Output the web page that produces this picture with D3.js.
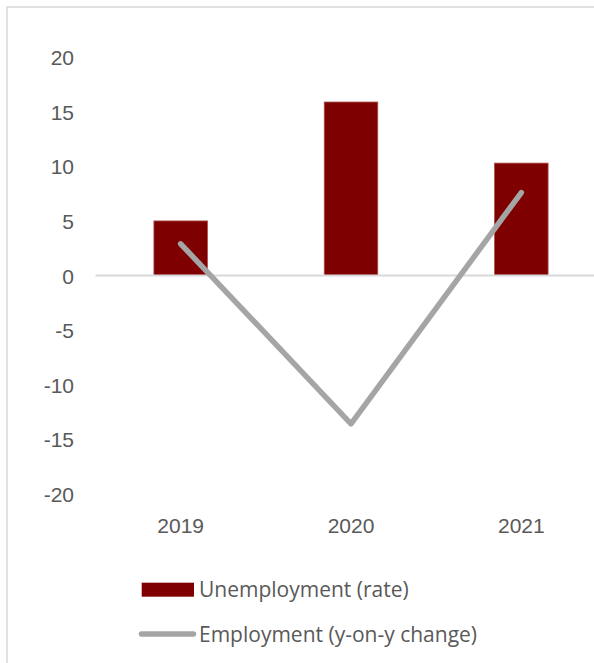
<!DOCTYPE html>
<html>
<head>
<meta charset="utf-8">
<script src="https://cdn.jsdelivr.net/npm/d3@7"></script>
<style>
  html, body { margin: 0; padding: 0; background: #fff; overflow: hidden; }
  svg { display: block; font-family: "Open Sans", "Noto Sans", sans-serif; }
</style>
</head>
<body>
<svg id="chart" width="594" height="663"></svg>
<script>
// Labour market indicators, 2019–2021
const years = ["2019", "2020", "2021"];
const unemployment = [5.0, 15.9, 10.3];      // rate, %
const employment = [2.9, -13.6, 7.6];        // y-on-y change, %
const yTicks = [-20, -15, -10, -5, 0, 5, 10, 15, 20];
const seriesNames = ["Unemployment (rate)", "Employment (y-on-y change)"];

const barColor = "#7f0000";
const lineColor = "#a5a5a5";
const textColor = "#595959";
const gridColor = "#d9d9d9";

const svg = d3.select("#chart");

// chart frame (extends past the right and bottom edges)
svg.append("rect")
  .attr("x", 7).attr("y", 7)
  .attr("width", 640).attr("height", 700)
  .attr("fill", "#fff")
  .attr("stroke", gridColor)
  .attr("stroke-width", 1.5);

const plot = { left: 95.5, right: 606.5, top: 57.3, bottom: 493.7 };

const x = d3.scaleBand()
  .domain(years)
  .range([plot.left, plot.right])
  .paddingInner(0.686)
  .paddingOuter(0.343);

const y = d3.scaleLinear()
  .domain([-20, 20])
  .range([plot.bottom, plot.top]);

// y-axis labels
const yAxis = d3.axisLeft(y).tickValues(yTicks).tickSize(0).tickPadding(0)
  .tickFormat(d3.format("d"));
const gy = svg.append("g").attr("transform", "translate(74,0)").call(yAxis);
gy.select(".domain").remove();
gy.selectAll("text")
  .attr("fill", textColor)
  .style("font-size", "21px")
  .attr("dy", "0.36em")
  .text(d => d < 0 ? "-" + Math.abs(d) : d);

// bars
svg.append("g").selectAll("rect")
  .data(years)
  .join("rect")
  .attr("x", d => x(d))
  .attr("width", x.bandwidth())
  .attr("y", (d, i) => y(Math.max(0, unemployment[i])))
  .attr("height", (d, i) => Math.abs(y(unemployment[i]) - y(0)))
  .attr("fill", barColor)
  .attr("stroke", "#a84a4a")
  .attr("stroke-width", 0.8);

// zero line
svg.append("line")
  .attr("x1", plot.left).attr("x2", plot.right)
  .attr("y1", y(0)).attr("y2", y(0))
  .attr("stroke", gridColor)
  .attr("stroke-width", 2);

// employment line
const line = d3.line()
  .x((d, i) => x(years[i]) + x.bandwidth() / 2)
  .y(d => y(d));
svg.append("path")
  .datum(employment)
  .attr("d", line)
  .attr("fill", "none")
  .attr("stroke", lineColor)
  .attr("stroke-width", 5.5)
  .attr("stroke-linecap", "round")
  .attr("stroke-linejoin", "round");

// x-axis labels
const xAxis = d3.axisBottom(x).tickSize(0).tickPadding(0);
const gx = svg.append("g").attr("transform", "translate(0,533)").call(xAxis);
gx.select(".domain").remove();
gx.selectAll("text")
  .attr("fill", textColor)
  .style("font-size", "21px")
  .attr("dy", 0)
  .attr("y", 0);

// legend
const legend = svg.append("g");
legend.append("rect")
  .attr("x", 141.7).attr("y", 582.7)
  .attr("width", 52.3).attr("height", 14)
  .attr("fill", barColor);
legend.append("line")
  .attr("x1", 141.5).attr("x2", 193.5)
  .attr("y1", 634).attr("y2", 634)
  .attr("stroke", lineColor)
  .attr("stroke-width", 5.5)
  .attr("stroke-linecap", "round");
legend.selectAll("text.lbl")
  .data(seriesNames)
  .join("text")
  .attr("class", "lbl")
  .attr("x", 199)
  .attr("y", (d, i) => [597, 641.5][i])
  .attr("fill", textColor)
  .style("font-size", "21px")
  .text(d => d);
</script>
</body>
</html>
